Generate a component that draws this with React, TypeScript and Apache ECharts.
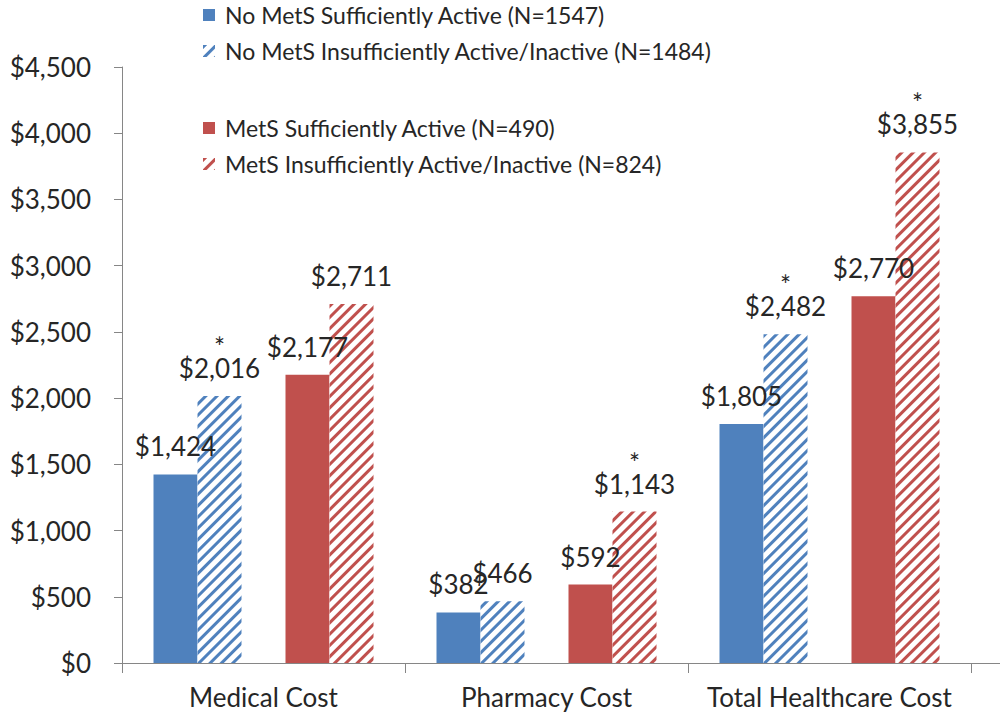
import React, { useEffect, useRef } from "react";
import * as echarts from "echarts";

const categories = ["Medical Cost", "Pharmacy Cost", "Total Healthcare Cost"];
const yTicks = { min: 0, max: 4500, interval: 500 };

const noMetsActive = [1424, 382, 1805];
const noMetsInactive = [2016, 466, 2482];
const metsActive = [2177, 592, 2770];
const metsInactive = [2711, 1143, 3855];

// significance markers (asterisk above the value)
const noMetsInactiveSig = [true, false, true];
const metsInactiveSig = [false, true, true];

const seriesNames = [
  "No MetS Sufficiently Active (N=1547)",
  "No MetS Insufficiently Active/Inactive (N=1484)",
  "MetS Sufficiently Active (N=490)",
  "MetS Insufficiently Active/Inactive (N=824)",
];

const BLUE = "#4F81BD";
const RED = "#C0504D";
const FONT = "Lato";
const TEXT = "#262626";

const money = (v: number) => "$" + v.toLocaleString("en-US");

const hatch = (color: string) => ({
  symbol: "rect",
  symbolSize: 1,
  color,
  backgroundColor: "#ffffff",
  dashArrayX: [1, 0],
  dashArrayY: [2.3, 4.1],
  rotation: -Math.PI / 4,
});

const labelFor = (sig: boolean[] | null) => ({
  show: true,
  position: "top" as const,
  distance: 14,
  fontFamily: FONT,
  fontSize: 26,
  color: TEXT,
  formatter: (p: any) =>
    sig && sig[p.dataIndex] ? `{s|*}\n{v|${money(p.value)}}` : `{v|${money(p.value)}}`,
  rich: {
    s: { fontFamily: FONT, fontSize: 26, lineHeight: 14, color: TEXT },
    v: { fontFamily: FONT, fontSize: 26, lineHeight: 28, color: TEXT },
  },
});

const legendRows = [15, 51, 128, 164];

export default function App() {
  const ref = useRef<HTMLDivElement>(null);

  useEffect(() => {
    if (!ref.current) return;
    const chart = echarts.init(ref.current, null, { renderer: "svg" });

    const legends = seriesNames.map((name, i) => ({
      data: [name],
      left: 203,
      top: legendRows[i] - 12,
      padding: 0,
      itemWidth: 12,
      itemHeight: 12,
      icon: "rect",
      selectedMode: false,
      textStyle: {
        fontFamily: FONT,
        fontSize: 23,
        color: TEXT,
        lineHeight: 24,
        padding: [0, 0, 0, 5],
      },
    }));

    chart.setOption({
      animation: false,
      legend: legends,
      grid: { left: 122, right: 29, top: 67, bottom: 57, containLabel: false },
      xAxis: {
        type: "category",
        data: categories,
        axisLine: { lineStyle: { color: "#868686", width: 1 } },
        axisTick: { show: true, length: 10, lineStyle: { color: "#868686" } },
        axisLabel: { interval: 0, fontFamily: FONT, fontSize: 26, color: TEXT, margin: 21 },
      },
      yAxis: {
        type: "value",
        min: yTicks.min,
        max: yTicks.max,
        interval: yTicks.interval,
        splitLine: { show: false },
        axisLine: { show: true, lineStyle: { color: "#868686", width: 1 } },
        axisTick: { show: true, length: 8, lineStyle: { color: "#868686" } },
        axisLabel: {
          fontFamily: FONT,
          fontSize: 26,
          color: TEXT,
          margin: 31,
          formatter: (v: number) => money(v),
        },
      },
      graphic: [
        {
          type: "line",
          shape: { x1: 971, y1: 663.5, x2: 1000, y2: 663.5 },
          style: { stroke: "#868686", lineWidth: 1 },
          silent: true,
        },
      ],
      series: [
        {
          name: seriesNames[0],
          type: "bar",
          data: noMetsActive,
          barWidth: 44,
          barGap: "0%",
          itemStyle: { color: BLUE },
          label: labelFor(null),
        },
        {
          name: seriesNames[1],
          type: "bar",
          data: noMetsInactive,
          barWidth: 44,
          barGap: "0%",
          itemStyle: { color: "#ffffff", decal: hatch(BLUE) },
          label: labelFor(noMetsInactiveSig),
        },
        {
          name: "spacer",
          type: "bar",
          data: ["-", "-", "-"],
          barWidth: 44,
          barGap: "0%",
          silent: true,
        },
        {
          name: seriesNames[2],
          type: "bar",
          data: metsActive,
          barWidth: 44,
          barGap: "0%",
          itemStyle: { color: RED },
          label: labelFor(null),
        },
        {
          name: seriesNames[3],
          type: "bar",
          data: metsInactive,
          barWidth: 44,
          barGap: "0%",
          itemStyle: { color: "#ffffff", decal: hatch(RED) },
          label: labelFor(metsInactiveSig),
        },
      ],
    });

    return () => chart.dispose();
  }, []);

  return (
    <div
      ref={ref}
      style={{ position: "fixed", left: 0, top: 0, width: 1000, height: 720, background: "#fff" }}
    />
  );
}
